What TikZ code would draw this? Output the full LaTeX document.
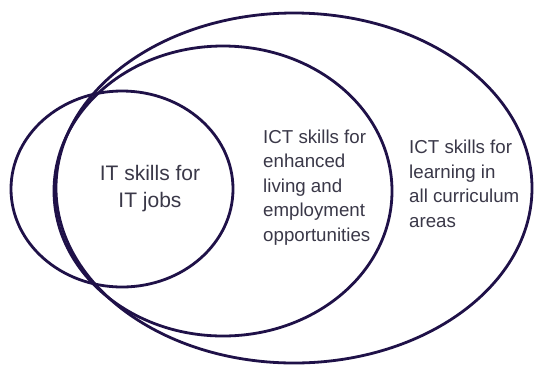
\documentclass[tikz,border=0pt]{standalone}
\usepackage{fontspec}
\setmainfont{Liberation Sans}
\definecolor{ringcol}{HTML}{1F1148}
\definecolor{txtcol}{HTML}{3A3848}
\begin{document}
\begin{tikzpicture}[x=1pt,y=-1pt,
  ring/.style={draw=ringcol,line width=2.8pt},
  bigtxt/.style={text=txtcol,inner sep=0pt,align=center,font=\fontsize{21}{27}\selectfont},
  smalltxt/.style={text=txtcol,inner sep=0pt,align=left,font=\fontsize{18.7}{24.5}\selectfont}]
\useasboundingbox (0,0) rectangle (534,365);
\fill[white] (0,0) rectangle (534,365);
\draw[ring] (294,188) ellipse [x radius=238, y radius=175];
\draw[ring] (223,191) ellipse [x radius=169, y radius=145];
\draw[ring] (122,189) ellipse [x radius=111, y radius=98];
\node[bigtxt,anchor=base] (itjobs) at (150,207) {IT skills for\\IT jobs};
\node[smalltxt,anchor=base west] (living) at (263,241) {ICT skills for\\enhanced\\living and\\employment\\opportunities};
\node[smalltxt,anchor=base west] (learning) at (409,227) {ICT skills for\\learning in\\all curriculum\\areas};
\end{tikzpicture}
\end{document}
